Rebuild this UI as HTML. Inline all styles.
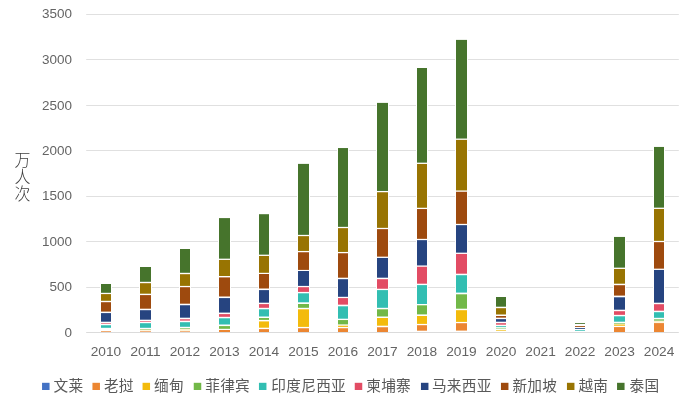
<!DOCTYPE html>
<html lang="zh-CN">
<head>
<meta charset="utf-8">
<title>万人次</title>
<style>
html,body{margin:0;padding:0;background:#fff;}
body{width:694px;height:406px;overflow:hidden;}
svg{display:block;}
.ax{font-family:"Liberation Sans","Noto Sans CJK SC",sans-serif;font-size:13px;fill:#646464;}
.lg{font-family:"Liberation Sans","Noto Sans CJK SC",sans-serif;font-size:14.67px;letter-spacing:0.3px;fill:#595959;}
.yt{font-family:"Liberation Sans","Noto Sans CJK SC",sans-serif;font-size:17px;font-weight:300;fill:#404040;}
</style>
</head>
<body>
<svg width="694" height="406" viewBox="0 0 694 406">
<rect x="0" y="0" width="694" height="406" fill="#ffffff"/>

<g stroke="#E0E0E0" stroke-width="1" fill="none">
<line x1="86.2" y1="287.50" x2="678.8" y2="287.50"/>
<line x1="86.2" y1="241.50" x2="678.8" y2="241.50"/>
<line x1="86.2" y1="196.50" x2="678.8" y2="196.50"/>
<line x1="86.2" y1="150.50" x2="678.8" y2="150.50"/>
<line x1="86.2" y1="105.50" x2="678.8" y2="105.50"/>
<line x1="86.2" y1="59.50" x2="678.8" y2="59.50"/>
<line x1="86.2" y1="14.50" x2="678.8" y2="14.50"/>
</g>
<g class="ax" text-anchor="end">
<text x="72" y="337.20" textLength="7.5" lengthAdjust="spacingAndGlyphs">0</text>
<text x="72" y="291.20" textLength="22.5" lengthAdjust="spacingAndGlyphs">500</text>
<text x="72" y="246.20" textLength="30.0" lengthAdjust="spacingAndGlyphs">1000</text>
<text x="72" y="200.20" textLength="30.0" lengthAdjust="spacingAndGlyphs">1500</text>
<text x="72" y="155.20" textLength="30.0" lengthAdjust="spacingAndGlyphs">2000</text>
<text x="72" y="109.60" textLength="30.0" lengthAdjust="spacingAndGlyphs">2500</text>
<text x="72" y="64.20" textLength="30.0" lengthAdjust="spacingAndGlyphs">3000</text>
<text x="72" y="18.20" textLength="30.0" lengthAdjust="spacingAndGlyphs">3500</text>
</g>
<g shape-rendering="auto">
<rect x="100.0" y="283.10" width="12.0" height="50.00" fill="#ffffff"/>
<rect x="101" y="284.00" width="10" height="8.80" fill="#46742C"/>
<rect x="101" y="294.10" width="10" height="6.70" fill="#987402"/>
<rect x="101" y="302.20" width="10" height="9.40" fill="#9E4A0E"/>
<rect x="101" y="313.10" width="10" height="8.60" fill="#264480"/>
<rect x="101" y="323.00" width="10" height="0.70" fill="#E24C64" fill-opacity="0.9"/>
<rect x="101" y="325.25" width="10" height="2.55" fill="#32BEB2"/>
<rect x="101" y="331.00" width="10" height="1.30" fill="#EC8632" fill-opacity="0.7"/>
<rect x="139.0" y="266.10" width="13.0" height="67.00" fill="#ffffff"/>
<rect x="140" y="267.00" width="11" height="14.80" fill="#46742C"/>
<rect x="140" y="283.20" width="11" height="10.50" fill="#987402"/>
<rect x="140" y="295.10" width="11" height="13.60" fill="#9E4A0E"/>
<rect x="140" y="310.20" width="11" height="9.50" fill="#264480"/>
<rect x="140" y="321.00" width="11" height="0.80" fill="#E24C64" fill-opacity="0.8"/>
<rect x="140" y="323.20" width="11" height="4.60" fill="#32BEB2"/>
<rect x="140" y="329.10" width="11" height="0.70" fill="#72B848" fill-opacity="0.7"/>
<rect x="140" y="329.80" width="11" height="0.70" fill="#F3BB0C" fill-opacity="0.25"/>
<rect x="140" y="331.10" width="11" height="1.20" fill="#EC8632" fill-opacity="0.7"/>
<rect x="179.0" y="248.10" width="12.0" height="85.00" fill="#ffffff"/>
<rect x="180" y="249.00" width="10" height="23.80" fill="#46742C"/>
<rect x="180" y="274.20" width="10" height="11.70" fill="#987402"/>
<rect x="180" y="287.20" width="10" height="16.50" fill="#9E4A0E"/>
<rect x="180" y="305.25" width="10" height="12.45" fill="#264480"/>
<rect x="180" y="319.20" width="10" height="1.50" fill="#E24C64" fill-opacity="0.9"/>
<rect x="180" y="322.20" width="10" height="4.60" fill="#32BEB2"/>
<rect x="180" y="328.10" width="10" height="0.80" fill="#72B848" fill-opacity="0.8"/>
<rect x="180" y="329.30" width="10" height="1.30" fill="#F3BB0C" fill-opacity="0.25"/>
<rect x="180" y="331.10" width="10" height="1.20" fill="#EC8632" fill-opacity="0.7"/>
<rect x="218.0" y="217.20" width="13.0" height="115.90" fill="#ffffff"/>
<rect x="219" y="218.10" width="11" height="40.55" fill="#46742C"/>
<rect x="219" y="259.95" width="11" height="16.05" fill="#987402"/>
<rect x="219" y="277.40" width="11" height="19.10" fill="#9E4A0E"/>
<rect x="219" y="298.10" width="11" height="14.50" fill="#264480"/>
<rect x="219" y="314.10" width="11" height="2.70" fill="#E24C64"/>
<rect x="219" y="318.30" width="11" height="6.20" fill="#32BEB2"/>
<rect x="219" y="326.10" width="11" height="2.70" fill="#72B848"/>
<rect x="219" y="330.00" width="11" height="2.30" fill="#EC8632"/>
<rect x="258.0" y="213.30" width="12.0" height="119.80" fill="#ffffff"/>
<rect x="259" y="214.20" width="10" height="40.45" fill="#46742C"/>
<rect x="259" y="255.95" width="10" height="16.85" fill="#987402"/>
<rect x="259" y="274.00" width="10" height="14.50" fill="#9E4A0E"/>
<rect x="259" y="290.10" width="10" height="12.60" fill="#264480"/>
<rect x="259" y="304.10" width="10" height="3.70" fill="#E24C64"/>
<rect x="259" y="309.30" width="10" height="7.20" fill="#32BEB2"/>
<rect x="259" y="318.00" width="10" height="1.90" fill="#72B848"/>
<rect x="259" y="321.40" width="10" height="6.30" fill="#F3BB0C"/>
<rect x="259" y="329.10" width="10" height="3.20" fill="#EC8632"/>
<rect x="297.0" y="163.00" width="13.0" height="170.10" fill="#ffffff"/>
<rect x="298" y="163.90" width="11" height="70.95" fill="#46742C"/>
<rect x="298" y="236.15" width="11" height="14.80" fill="#987402"/>
<rect x="298" y="252.25" width="11" height="17.65" fill="#9E4A0E"/>
<rect x="298" y="271.00" width="11" height="14.90" fill="#264480"/>
<rect x="298" y="287.20" width="11" height="4.70" fill="#E24C64"/>
<rect x="298" y="293.30" width="11" height="9.00" fill="#32BEB2"/>
<rect x="298" y="304.00" width="11" height="3.80" fill="#72B848"/>
<rect x="298" y="309.30" width="11" height="17.60" fill="#F3BB0C"/>
<rect x="298" y="328.25" width="11" height="4.05" fill="#EC8632"/>
<rect x="337.0" y="147.15" width="12.0" height="185.95" fill="#ffffff"/>
<rect x="338" y="148.05" width="10" height="78.80" fill="#46742C"/>
<rect x="338" y="228.15" width="10" height="23.80" fill="#987402"/>
<rect x="338" y="253.25" width="10" height="24.45" fill="#9E4A0E"/>
<rect x="338" y="279.20" width="10" height="17.60" fill="#264480"/>
<rect x="338" y="298.10" width="10" height="6.55" fill="#E24C64"/>
<rect x="338" y="306.30" width="10" height="12.40" fill="#32BEB2"/>
<rect x="338" y="320.05" width="10" height="4.35" fill="#72B848"/>
<rect x="338" y="325.70" width="10" height="1.20" fill="#F3BB0C"/>
<rect x="338" y="328.25" width="10" height="4.05" fill="#EC8632"/>
<rect x="376.0" y="102.00" width="13.0" height="231.10" fill="#ffffff"/>
<rect x="377" y="102.90" width="11" height="88.05" fill="#46742C"/>
<rect x="377" y="192.25" width="11" height="35.60" fill="#987402"/>
<rect x="377" y="229.15" width="11" height="27.50" fill="#9E4A0E"/>
<rect x="377" y="257.95" width="11" height="19.75" fill="#264480"/>
<rect x="377" y="279.20" width="11" height="9.55" fill="#E24C64"/>
<rect x="377" y="290.10" width="11" height="17.70" fill="#32BEB2"/>
<rect x="377" y="309.30" width="11" height="7.20" fill="#72B848"/>
<rect x="377" y="318.00" width="11" height="7.70" fill="#F3BB0C"/>
<rect x="377" y="327.25" width="11" height="5.05" fill="#EC8632"/>
<rect x="416.0" y="67.10" width="12.0" height="266.00" fill="#ffffff"/>
<rect x="417" y="68.00" width="10" height="94.65" fill="#46742C"/>
<rect x="417" y="163.95" width="10" height="43.80" fill="#987402"/>
<rect x="417" y="209.05" width="10" height="29.80" fill="#9E4A0E"/>
<rect x="417" y="240.15" width="10" height="25.30" fill="#264480"/>
<rect x="417" y="266.75" width="10" height="16.95" fill="#E24C64"/>
<rect x="417" y="285.10" width="10" height="18.90" fill="#32BEB2"/>
<rect x="417" y="305.30" width="10" height="9.10" fill="#72B848"/>
<rect x="417" y="316.00" width="10" height="7.90" fill="#F3BB0C"/>
<rect x="417" y="325.20" width="10" height="5.50" fill="#EC8632"/>
<rect x="455.0" y="39.00" width="13.0" height="294.10" fill="#ffffff"/>
<rect x="456" y="39.90" width="11" height="98.65" fill="#46742C"/>
<rect x="456" y="139.85" width="11" height="50.60" fill="#987402"/>
<rect x="456" y="191.75" width="11" height="32.10" fill="#9E4A0E"/>
<rect x="456" y="225.15" width="11" height="27.50" fill="#264480"/>
<rect x="456" y="253.95" width="11" height="19.75" fill="#E24C64"/>
<rect x="456" y="275.20" width="11" height="17.40" fill="#32BEB2"/>
<rect x="456" y="294.30" width="11" height="14.40" fill="#72B848"/>
<rect x="456" y="310.20" width="11" height="11.70" fill="#F3BB0C"/>
<rect x="456" y="323.20" width="11" height="7.40" fill="#EC8632"/>
<rect x="495.0" y="296.10" width="12.0" height="37.00" fill="#ffffff"/>
<rect x="496" y="297.00" width="10" height="9.70" fill="#46742C"/>
<rect x="496" y="308.20" width="10" height="6.30" fill="#987402"/>
<rect x="496" y="316.00" width="10" height="1.65" fill="#9E4A0E"/>
<rect x="496" y="319.15" width="10" height="2.55" fill="#264480"/>
<rect x="496" y="323.05" width="10" height="1.75" fill="#E24C64" fill-opacity="0.85"/>
<rect x="496" y="326.05" width="10" height="0.80" fill="#32BEB2"/>
<rect x="496" y="327.80" width="10" height="1.00" fill="#72B848" fill-opacity="0.55"/>
<rect x="496" y="330.00" width="10" height="1.00" fill="#F3BB0C" fill-opacity="0.65"/>
<rect x="534.0" y="328.10" width="13.0" height="5.00" fill="#ffffff"/>
<rect x="574.0" y="322.10" width="12.0" height="11.00" fill="#ffffff"/>
<rect x="575" y="323.00" width="10" height="0.90" fill="#46742C" fill-opacity="0.95"/>
<rect x="575" y="326.06" width="10" height="0.91" fill="#9E4A0E" fill-opacity="0.95"/>
<rect x="575" y="328.10" width="10" height="0.90" fill="#264480" fill-opacity="0.95"/>
<rect x="575" y="330.10" width="10" height="0.80" fill="#32BEB2" fill-opacity="0.9"/>
<rect x="613.0" y="236.05" width="13.0" height="97.05" fill="#ffffff"/>
<rect x="614" y="236.95" width="11" height="30.70" fill="#46742C"/>
<rect x="614" y="268.95" width="11" height="14.75" fill="#987402"/>
<rect x="614" y="285.20" width="11" height="10.40" fill="#9E4A0E"/>
<rect x="614" y="297.30" width="11" height="12.40" fill="#264480"/>
<rect x="614" y="311.20" width="11" height="3.65" fill="#E24C64"/>
<rect x="614" y="316.30" width="11" height="5.40" fill="#32BEB2"/>
<rect x="614" y="323.10" width="11" height="0.70" fill="#72B848" fill-opacity="0.85"/>
<rect x="614" y="324.50" width="11" height="1.25" fill="#F3BB0C"/>
<rect x="614" y="327.10" width="11" height="5.20" fill="#EC8632"/>
<rect x="653.0" y="146.05" width="12.0" height="187.05" fill="#ffffff"/>
<rect x="654" y="146.95" width="10" height="60.70" fill="#46742C"/>
<rect x="654" y="208.95" width="10" height="31.90" fill="#987402"/>
<rect x="654" y="242.15" width="10" height="26.50" fill="#9E4A0E"/>
<rect x="654" y="269.95" width="10" height="32.75" fill="#264480"/>
<rect x="654" y="304.20" width="10" height="6.50" fill="#E24C64"/>
<rect x="654" y="312.20" width="10" height="5.60" fill="#32BEB2"/>
<rect x="654" y="319.20" width="10" height="1.60" fill="#72B848" fill-opacity="0.8"/>
<rect x="654" y="321.00" width="10" height="1.70" fill="#F3BB0C" fill-opacity="0.2"/>
<rect x="654" y="323.10" width="10" height="9.20" fill="#EC8632"/>
</g>
<line x1="86.2" y1="332.5" x2="678.8" y2="332.5" stroke="#DBDBDB" stroke-width="1"/>
<g class="ax" text-anchor="middle">
<text x="105.95" y="355.5" textLength="30.5" lengthAdjust="spacingAndGlyphs">2010</text>
<text x="145.46" y="355.5" textLength="30.5" lengthAdjust="spacingAndGlyphs">2011</text>
<text x="184.97" y="355.5" textLength="30.5" lengthAdjust="spacingAndGlyphs">2012</text>
<text x="224.47" y="355.5" textLength="30.5" lengthAdjust="spacingAndGlyphs">2013</text>
<text x="263.98" y="355.5" textLength="30.5" lengthAdjust="spacingAndGlyphs">2014</text>
<text x="303.49" y="355.5" textLength="30.5" lengthAdjust="spacingAndGlyphs">2015</text>
<text x="342.99" y="355.5" textLength="30.5" lengthAdjust="spacingAndGlyphs">2016</text>
<text x="382.50" y="355.5" textLength="30.5" lengthAdjust="spacingAndGlyphs">2017</text>
<text x="422.01" y="355.5" textLength="30.5" lengthAdjust="spacingAndGlyphs">2018</text>
<text x="461.51" y="355.5" textLength="30.5" lengthAdjust="spacingAndGlyphs">2019</text>
<text x="501.02" y="355.5" textLength="30.5" lengthAdjust="spacingAndGlyphs">2020</text>
<text x="540.53" y="355.5" textLength="30.5" lengthAdjust="spacingAndGlyphs">2021</text>
<text x="580.03" y="355.5" textLength="30.5" lengthAdjust="spacingAndGlyphs">2022</text>
<text x="619.54" y="355.5" textLength="30.5" lengthAdjust="spacingAndGlyphs">2023</text>
<text x="659.05" y="355.5" textLength="30.5" lengthAdjust="spacingAndGlyphs">2024</text>
</g>
<g class="yt" text-anchor="middle">
<text transform="translate(22.5,165.9) scale(0.94,1)" x="0" y="0">万</text>
<text transform="translate(22.5,182.9) scale(0.94,1)" x="0" y="0">人</text>
<text transform="translate(22.5,200.1) scale(0.94,1)" x="0" y="0">次</text>
</g>
<g class="lg">
<rect x="42.05" y="382.8" width="7.5" height="7.2" fill="#4472C4"/>
<text x="53.5" y="390.8">文莱</text>
<rect x="92.45" y="382.8" width="7.5" height="7.2" fill="#EC8632"/>
<text x="103.9" y="390.8">老挝</text>
<rect x="142.55" y="382.8" width="7.5" height="7.2" fill="#F3BB0C"/>
<text x="154.0" y="390.8">缅甸</text>
<rect x="193.75" y="382.8" width="7.5" height="7.2" fill="#72B848"/>
<text x="205.2" y="390.8">菲律宾</text>
<rect x="258.95" y="382.8" width="7.5" height="7.2" fill="#32BEB2"/>
<text x="271.3" y="390.8">印度尼西亚</text>
<rect x="354.75" y="382.8" width="7.5" height="7.2" fill="#E24C64"/>
<text x="366.2" y="390.8">柬埔寨</text>
<rect x="420.95" y="382.8" width="7.5" height="7.2" fill="#264480"/>
<text x="431.9" y="390.8">马来西亚</text>
<rect x="500.95" y="382.8" width="7.5" height="7.2" fill="#9E4A0E"/>
<text x="512.4" y="390.8">新加坡</text>
<rect x="566.95" y="382.8" width="7.5" height="7.2" fill="#987402"/>
<text x="578.4" y="390.8">越南</text>
<rect x="617.05" y="382.8" width="7.5" height="7.2" fill="#46742C"/>
<text x="629.5" y="390.8">泰国</text>
</g>
</svg>
</body>
</html>
